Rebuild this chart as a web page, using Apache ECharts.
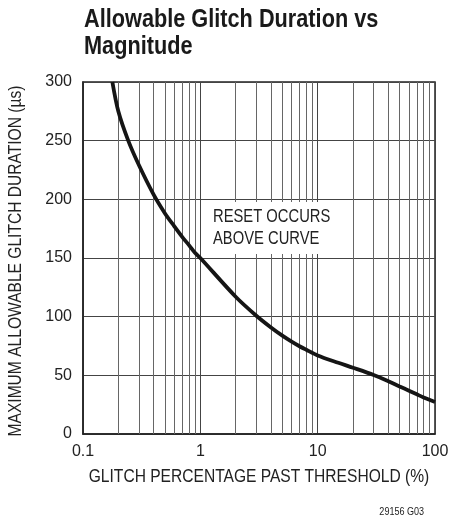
<!DOCTYPE html>
<html>
<head>
<meta charset="utf-8">
<script src="https://cdn.jsdelivr.net/npm/echarts@6/dist/echarts.min.js"></script>
<style>
  html, body { margin: 0; padding: 0; background: #fff; }
  #chart { width: 465px; height: 520px; }
</style>
</head>
<body>
<div id="chart"></div>
<script>
// glitch magnitude (% past threshold) vs max allowable duration (us)
var glitchPct = [0.178, 0.2, 0.243, 0.3, 0.4, 0.5, 0.6, 0.7, 0.8, 0.9, 1, 2, 3, 4, 5, 6, 7, 8, 10, 15, 20, 30, 40, 50, 60, 70, 80, 100];
var glitchDur = [300, 275, 250, 229, 204, 188, 177, 168, 161, 154.5, 150, 117, 100.8, 90.8, 83.8, 78.7, 74.8, 71.8, 67, 60.7, 56.5, 50.3, 45, 40.5, 36.9, 33.8, 31.1, 27.3];

// minor log grid lines
var gridX = [0.2, 0.3, 0.4, 0.5, 0.6, 0.7, 0.8, 0.9, 2, 3, 4, 5, 6, 7, 8, 9, 20, 30, 40, 50, 60, 70, 80, 90];
var xTickLabels = ['0.1', '1', '10', '100'];
var yTicks = [0, 50, 100, 150, 200, 250, 300];

// no condensed font installed, so squeeze Liberation Sans instead
var font = '"Liberation Sans", Arial, sans-serif';
var squeeze = 0.82;
var txt = '#222';

var chart = echarts.init(document.getElementById('chart'));

var curve = glitchPct.map(function (x, i) { return [x, glitchDur[i]]; });

var option = {
    animation: false,
    grid: {
        left: 83,
        right: 30,
        top: 82,
        bottom: 86,
        show: true,
        borderColor: '#222',
        borderWidth: 1.5
    },
    xAxis: {
        type: 'log',
        logBase: 10,
        min: 0.1,
        max: 100,
        axisLine: { show: true, lineStyle: { color: '#222', width: 1.5 } },
        axisTick: { show: false },
        axisLabel: {
            fontFamily: font, fontSize: 16, color: txt, margin: 10,
            formatter: function (v, i) { return xTickLabels[i]; }
        },
        splitLine: { show: true, lineStyle: { color: '#444', width: 1 } }
    },
    yAxis: {
        type: 'value',
        min: 0,
        max: 300,
        interval: 50,
        axisLine: { show: true, lineStyle: { color: '#222', width: 1.5 } },
        axisTick: { show: false },
        axisLabel: {
            fontFamily: font, fontSize: 16, color: txt, margin: 11,
            formatter: function (v) { return yTicks.indexOf(v) >= 0 ? String(v) : ''; }
        },
        splitLine: { show: true, lineStyle: { color: '#444', width: 1 } }
    },
    graphic: [
        {   // title
            type: 'text',
            x: 84, y: 6,
            scaleX: 0.835,
            style: {
                text: 'Allowable Glitch Duration vs\nMagnitude',
                font: 'bold 26px ' + font,
                fill: '#1a1a1a',
                lineHeight: 27,
                textAlign: 'left',
                textVerticalAlign: 'top'
            }
        },
        {   // x axis name
            type: 'text',
            x: 259, y: 477,
            scaleX: squeeze,
            style: {
                text: 'GLITCH PERCENTAGE PAST THRESHOLD (%)',
                font: '19px ' + font,
                fill: txt,
                textAlign: 'center',
                textVerticalAlign: 'middle'
            }
        },
        {   // y axis name
            type: 'text',
            x: 16, y: 261,
            rotation: Math.PI / 2,
            scaleX: squeeze,
            style: {
                text: 'MAXIMUM ALLOWABLE GLITCH DURATION (µs)',
                font: '19px ' + font,
                fill: txt,
                textAlign: 'center',
                textVerticalAlign: 'middle'
            }
        },
        {   // note inside plot
            type: 'text',
            x: 204, y: 202,
            z: 100,
            scaleX: squeeze,
            style: {
                text: 'RESET OCCURS\nABOVE CURVE',
                font: '18px ' + font,
                fill: txt,
                lineHeight: 22,
                backgroundColor: '#fff',
                padding: [4, 22, 4, 11],
                textAlign: 'left',
                textVerticalAlign: 'top'
            }
        },
        {
            type: 'text',
            x: 424, y: 512,
            scaleX: squeeze,
            style: {
                text: '29156 G03',
                font: '11px ' + font,
                fill: txt,
                textAlign: 'right',
                textVerticalAlign: 'middle'
            }
        }
    ],
    series: [
        {
            type: 'line',
            data: [],
            z: 1,
            markLine: {
                silent: true,
                symbol: 'none',
                label: { show: false },
                lineStyle: { color: '#666', width: 1, type: 'solid' },
                data: gridX.map(function (x) { return { xAxis: x }; })
            }
        },
        {
            type: 'line',
            data: curve,
            z: 5,
            smooth: 0.3,
            symbol: 'none',
            lineStyle: { color: '#151515', width: 3.8 }
        }
    ]
};

chart.setOption(option);
</script>
</body>
</html>
